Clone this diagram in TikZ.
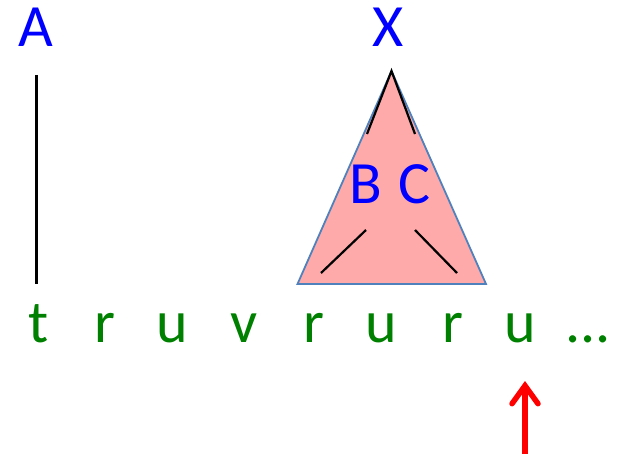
\documentclass[tikz,border=0pt]{standalone}
\usepackage{fontspec}
\setmainfont{Carlito}
\usetikzlibrary{arrows.meta}
\begin{document}
\begin{tikzpicture}[x=1pt, y=-1pt]
    \definecolor{symbolColour}{HTML}{0000FF}
    \definecolor{wordColour}{HTML}{008000}
    \definecolor{fillColourX}{HTML}{FFAAAA}
    \definecolor{borderColourX}{HTML}{4F81BD}
    \definecolor{pointerColour}{HTML}{FF0000}

    \tikzset{
        symbol/.style={text=symbolColour, font=\fontsize{60}{72}\selectfont, inner sep=0pt, anchor=base},
        word/.style={text=wordColour, font=\fontsize{60}{72}\selectfont, inner sep=0pt, anchor=base},
        branch/.style={black, line width=2.2pt},
        pointer/.style={pointerColour, line width=5.5pt, -{Straight Barb[length=18pt, width=26pt, line cap=round]}}
    }

    \useasboundingbox (0,0) rectangle (617,454);

    % Triangle for subtree X
    \coordinate (apex) at (391.5,71);
    \coordinate (baseL) at (297.5,284);
    \coordinate (baseR) at (486,284);
    \draw[fill=fillColourX, draw=borderColourX, line width=1.8pt] (apex) -- (baseL) -- (baseR) -- cycle;

    % Nonterminals
    \node[symbol] (A) at (36,47) {A};
    \node[symbol] (X) at (388,47) {X};
    \node[symbol] (B) at (366,204) {B};
    \node[symbol] (C) at (414,204) {C};

    % Input words
    \foreach \w/\x [count=\i] in {t/39,r/105,u/172,v/244,r/314,u/381,r/453,u/520}
        \node[word] (w\i) at (\x,342) {\w};
    \node[word] (dots) at (588,342) {...};

    % Branches
    \coordinate (AtoT) at (36.5,75);
    \coordinate (TtoA) at (36.5,284);
    \draw[branch] (AtoT) -- (TtoA);

    \coordinate (XtoB) at (367,134);
    \coordinate (XtoC) at (415,134);
    \draw[branch] (XtoB) -- (apex) -- (XtoC);

    \coordinate (BtopL) at (366,230);
    \coordinate (BbotL) at (321,273);
    \coordinate (CtopR) at (415,230);
    \coordinate (CbotR) at (457,273);
    \draw[branch] (BtopL) -- (BbotL);
    \draw[branch] (CtopR) -- (CbotR);

    % Pointer under current word
    \coordinate (pointerEnd) at (525,460);
    \coordinate (pointerTip) at (525,381);
    \draw[pointer] (pointerEnd) -- (pointerTip);

\end{tikzpicture}
\end{document}
